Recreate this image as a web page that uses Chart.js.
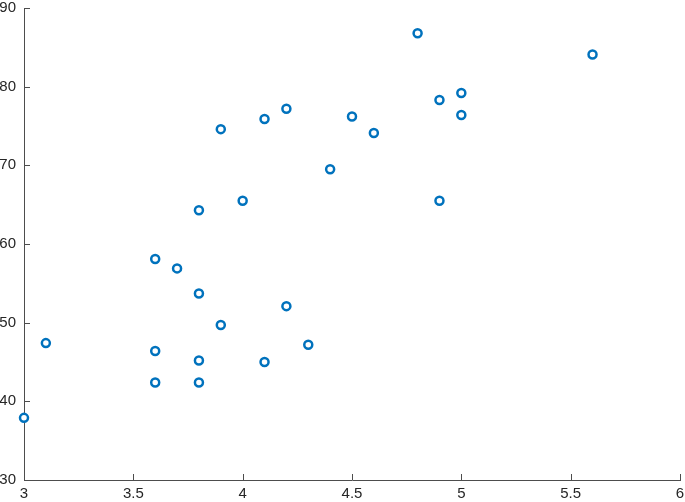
<!DOCTYPE html>
<html>
<head>
<meta charset="utf-8">
<script src="https://cdn.jsdelivr.net/npm/chart.js@4.4.1/dist/chart.umd.min.js"></script>
<style>
  html, body { margin: 0; padding: 0; background: #fff; }
  #wrap { width: 685px; height: 502px; }
</style>
</head>
<body>
<div id="wrap"><canvas id="scatterChart" width="685" height="502"></canvas></div>
<script>
// x / y values
var xValues = [3.0, 3.1, 3.6, 3.6, 3.6, 3.7, 3.8, 3.8, 3.8, 3.8, 3.9, 3.9, 4.0, 4.1, 4.1, 4.2, 4.2, 4.3, 4.4, 4.5, 4.6, 4.8, 4.9, 4.9, 5.0, 5.0, 5.6];
var yValues = [37.9, 47.4, 42.4, 46.4, 58.1, 56.9, 42.4, 45.2, 53.7, 64.3, 49.7, 74.6, 65.5, 45.0, 75.9, 52.1, 77.2, 47.2, 69.5, 76.2, 74.1, 86.8, 78.3, 65.5, 79.2, 76.4, 84.1];
var xTicks = [3, 3.5, 4, 4.5, 5, 5.5, 6];
var yTicks = [30, 40, 50, 60, 70, 80, 90];

var axisColor = "#4d4d4d";
var tickFont = { family: "Liberation Sans, Arial, sans-serif", size: 15 };

var points = xValues.map(function (x, i) {
  return { x: x, y: yValues[i] };
});

// tick marks pointing into the plot, like the original
var innerTicks = {
  id: "innerTicks",
  afterDraw: function (chart) {
    var ctx = chart.ctx;
    var xs = chart.scales.x;
    var ys = chart.scales.y;
    var len = 6;
    ctx.save();
    ctx.strokeStyle = axisColor;
    ctx.lineWidth = 1;
    ctx.beginPath();
    xTicks.forEach(function (v) {
      var px = Math.round(xs.getPixelForValue(v)) + 0.5;
      ctx.moveTo(px, ys.bottom);
      ctx.lineTo(px, ys.bottom - len);
    });
    yTicks.forEach(function (v) {
      var py = Math.round(ys.getPixelForValue(v)) + 0.5;
      ctx.moveTo(xs.left, py);
      ctx.lineTo(xs.left + len, py);
    });
    ctx.stroke();
    ctx.restore();
  },
};

// keep the plot box exactly where the original has it
function noOverhang(scale) {
  scale.paddingTop = 0;
  scale.paddingBottom = 0;
  scale.paddingLeft = 0;
  scale.paddingRight = 0;
}

var ctx = document.getElementById("scatterChart").getContext("2d");

var myChart = new Chart(ctx, {
  type: "scatter",
  data: {
    datasets: [
      {
        data: points,
        borderColor: "#0072BD",
        backgroundColor: "#ffffff",
        borderWidth: 2.5,
        pointRadius: 4,
        pointHoverRadius: 4,
        clip: false,
      },
    ],
  },
  options: {
    responsive: false,
    animation: false,
    layout: {
      autoPadding: false,
      padding: { top: 8, right: 5, left: 0, bottom: 0 },
    },
    plugins: {
      legend: { display: false },
      tooltip: { enabled: false },
    },
    scales: {
      x: {
        type: "linear",
        min: 3,
        max: 6,
        afterBuildTicks: function (scale) {
          scale.ticks = xTicks.map(function (v) { return { value: v }; });
        },
        afterFit: function (scale) {
          scale.height = 22;
          noOverhang(scale);
        },
        grid: { display: false, drawTicks: false },
        border: { display: true, color: axisColor, width: 1 },
        ticks: {
          padding: 5,
          color: "#262626",
          font: tickFont,
          maxRotation: 0,
          callback: function (v) { return String(v); },
        },
      },
      y: {
        type: "linear",
        min: 30,
        max: 90,
        afterBuildTicks: function (scale) {
          scale.ticks = yTicks.map(function (v) { return { value: v }; });
        },
        afterFit: function (scale) {
          scale.width = 24;
          noOverhang(scale);
        },
        grid: { display: false, drawTicks: false },
        border: { display: true, color: axisColor, width: 1 },
        ticks: {
          padding: 8,
          color: "#262626",
          font: tickFont,
          callback: function (v) { return String(v); },
        },
      },
    },
  },
  plugins: [innerTicks],
});
</script>
</body>
</html>
